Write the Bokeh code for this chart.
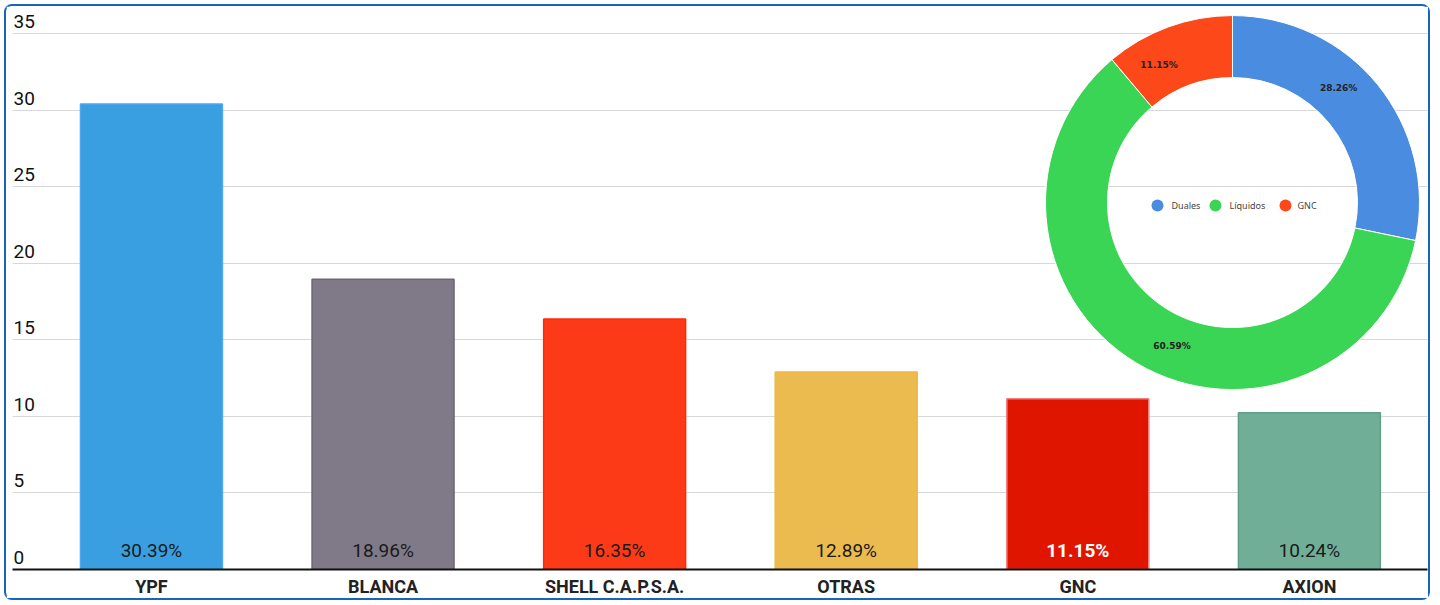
import math
from bokeh.plotting import figure
from bokeh.models import Range1d, FixedTicker, ColumnDataSource
from bokeh.core.properties import value
from bokeh.embed import file_html
from bokeh.resources import INLINE

# ---------------- data ----------------
categories = ["YPF", "BLANCA", "SHELL C.A.P.S.A.", "OTRAS", "GNC", "AXION"]
shares = [30.39, 18.96, 16.35, 12.89, 11.15, 10.24]
bar_fill = ["#3a9fe1", "#807988", "#fd3a17", "#ebbb4f", "#e01500", "#71ae98"]
bar_line = ["#4aa8f5", "#6c6673", "#ff2a0a", "#f2b83a", "#f08080", "#5f9f88"]
label_color = ["#1a1a1a", "#1a1a1a", "#1a1a1a", "#1a1a1a", "#ffffff", "#1a1a1a"]
label_style = ["normal", "normal", "normal", "normal", "bold", "normal"]
y_ticks = [0, 5, 10, 15, 20, 25, 30, 35]

pie_names = ["Duales", "Líquidos", "GNC"]
pie_shares = [28.26, 60.59, 11.15]
pie_colors = ["#4a8ce0", "#3bd555", "#fd4819"]

# ---------------- layout constants ----------------
W, H = 1426, 596
BORDER = 2
MB_L, MB_R, MB_T, MB_B = 6, 5, 6, 33
X0, X1 = -0.600, 5.510
Y0, Y1 = 0, 36.37
frame_w = W - MB_L - MB_R
frame_h = H - MB_T - MB_B
px_x = frame_w / (X1 - X0)
px_y = frame_h / (Y1 - Y0)

DONUT_X, DONUT_Y = 4.668, 23.96
R_IN, R_OUT = 125, 187
LABEL_ROT = math.radians(8)     # slice labels sit a little counter-clockwise
LEGEND_DX = [-75, -17, 53]      # screen px from donut centre
LEGEND_TX = [-61, -3, 65]
LEGEND_DY = 3

FONT = "Roboto"

p = figure(width=W, height=H, x_range=Range1d(X0, X1), y_range=Range1d(Y0, Y1),
           output_backend="svg", toolbar_location=None,
           min_border_left=MB_L, min_border_right=MB_R,
           min_border_top=MB_T, min_border_bottom=MB_B)
p.outline_line_color = None
p.background_fill_color = "white"
p.border_fill_color = "white"
p.styles = {"border": f"{BORDER}px solid #1763c2", "border-radius": "8px",
            "margin-left": "4px", "margin-top": "4px"}

# axes / grid
p.yaxis.visible = False
p.xgrid.visible = False
p.ygrid.ticker = FixedTicker(ticks=y_ticks)
p.ygrid.grid_line_color = "#d8d8dc"
p.ygrid.grid_line_width = 1

idx = list(range(len(categories)))
p.xaxis.ticker = FixedTicker(ticks=idx)
p.xaxis.major_label_overrides = {i: c for i, c in zip(idx, categories)}
p.xaxis.axis_line_color = "#111111"
p.xaxis.axis_line_width = 2
p.xaxis.major_tick_line_color = None
p.xaxis.minor_tick_line_color = None
p.xaxis.major_tick_out = 0
p.xaxis.major_label_standoff = 6
p.xaxis.major_label_text_font = FONT
p.xaxis.major_label_text_font_size = "18px"
p.xaxis.major_label_text_font_style = "bold"
p.xaxis.major_label_text_color = "#222222"

# y tick labels drawn inside the plot, above grid lines
p.text(x=[X0] * len(y_ticks), y=y_ticks, text=[str(t) for t in y_ticks],
       x_offset=1, y_offset=-12, text_baseline="middle", text_align="left",
       text_font=value(FONT), text_font_size="19px", text_color="#111111")

# bars
src = ColumnDataSource(dict(x=idx, top=shares, fill=bar_fill, line=bar_line,
                            lab=[f"{v:.2f}%" for v in shares],
                            lc=label_color, ls=label_style, y0=[0] * len(idx)))
p.vbar(x="x", top="top", width=0.613, fill_color="fill", line_color="line",
       line_width=1.5, source=src)
p.text(x="x", y="y0", text="lab", text_color="lc", text_font_style="ls",
       text_align="center", text_baseline="middle", y_offset=-19,
       text_font=value(FONT), text_font_size="19px", source=src)

# donut
starts, ends, mids = [], [], []
cum = 0.0
for v in pie_shares:
    s = math.pi / 2 - cum / 100 * 2 * math.pi
    e = math.pi / 2 - (cum + v) / 100 * 2 * math.pi
    starts.append(s)
    ends.append(e)
    mids.append((s + e) / 2 + LABEL_ROT)
    cum += v
n = len(pie_shares)
dsrc = ColumnDataSource(dict(x=[DONUT_X] * n, y=[DONUT_Y] * n, s=starts, e=ends,
                             c=pie_colors))
p.annular_wedge(x="x", y="y", inner_radius=R_IN, outer_radius=R_OUT,
                inner_radius_units="screen", outer_radius_units="screen",
                start_angle="s", end_angle="e", direction="clock",
                fill_color="c", line_color="white", line_width=1, source=dsrc)

r_lab = (R_IN + R_OUT) / 2
lsrc = ColumnDataSource(dict(x=[DONUT_X] * n, y=[DONUT_Y] * n,
                             t=[f"{v:.2f}%" for v in pie_shares],
                             xo=[r_lab * math.cos(m) for m in mids],
                             yo=[-r_lab * math.sin(m) for m in mids]))
p.text(x="x", y="y", text="t", x_offset="xo", y_offset="yo",
       text_align="center", text_baseline="middle",
       text_font=value("DejaVu Sans"), text_font_size="9px",
       text_font_style="bold", text_color="#222222", source=lsrc)

# donut legend (centre)
p.scatter(x=[DONUT_X + d / px_x for d in LEGEND_DX],
          y=[DONUT_Y - LEGEND_DY / px_y] * n,
          size=12, marker="circle", fill_color=pie_colors, line_color=None)
p.text(x=[DONUT_X] * n, y=[DONUT_Y] * n, text=pie_names,
       x_offset=LEGEND_TX, y_offset=LEGEND_DY,
       text_align="left", text_baseline="middle",
       text_font=value("Noto Sans"), text_font_size="9px", text_color="#444444")

open("out.html", "w").write(file_html(p, INLINE))
